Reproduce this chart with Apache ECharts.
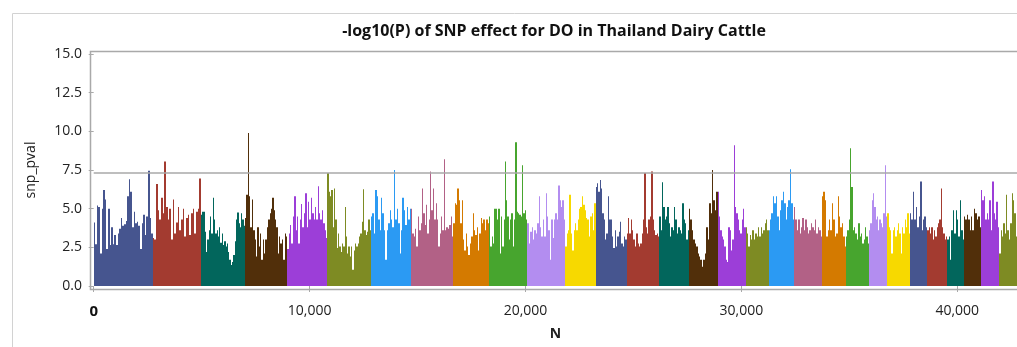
<!DOCTYPE html>
<html>
<head>
<meta charset="utf-8">
<script src="https://cdn.jsdelivr.net/npm/echarts@6/dist/echarts.min.js"></script>
<style>
    html, body { margin: 0; padding: 0; background: #fff; }
    #chart { width: 1017px; height: 347px; }
</style>
</head>
<body>
<div id="chart"></div>
<script>
// SNP count per chromosome (chromosome order along N)
const chrSnpCounts = [2733, 2237, 2038, 1960, 1852, 2025, 1852, 1960, 1653, 1774, 1760, 1409, 1435, 1511, 1375,
    1330, 1297, 1065, 1172, 1297, 1112, 1065, 848, 1051, 801, 927, 773, 788, 848, 820]

// peak -log10(P) read left to right in each chromosome
const chr1 = [4.1, 2.7, 5.2, 5.1, 2.1, 5.0, 6.2, 5.6, 2.4, 5.0, 2.65, 3.8, 2.7, 3.3, 2.65, 3.4, 3.7, 4.4, 3.9, 4.0, 4.2, 5.8, 6.9, 6.1, 3.8, 4.8, 4.05, 4.15, 3.9, 2.4, 4.05, 4.6, 3.3, 4.5, 7.45, 4.4, 3.4]
const chr2 = [3.1, 3.0, 6.6, 4.9, 4.3, 5.7, 4.7, 8.05, 5.1, 4.3, 5.0, 3.0, 5.6, 3.4, 4.1, 5.1, 3.6, 4.3, 5.0, 3.2, 4.4, 4.6, 3.3, 4.7, 5.0, 3.4, 4.8, 5.0, 6.95]
const chr3 = [4.6, 4.8, 4.8, 3.5, 2.2, 3.0, 3.6, 4.5, 3.4, 5.7, 4.3, 3.4, 3.6, 3.2, 3.8, 2.8, 3.4, 2.65, 2.9, 2.55, 2.75, 2.2, 1.7, 1.35, 1.55, 2.0, 2.9, 4.3, 4.75, 4.05, 3.8, 4.7, 4.3, 3.9]
const chr4 = [4.4, 5.9, 9.9, 5.8, 3.8, 5.6, 3.6, 3.0, 1.9, 3.8, 2.55, 3.4, 1.7, 3.0, 2.1, 3.0, 3.8, 4.3, 4.7, 5.0, 5.7, 4.9, 4.3, 3.8, 2.1, 3.2, 2.75, 3.0, 1.7, 3.4, 3.2]
const chr5 = [2.4, 3.4, 3.95, 2.75, 4.5, 5.8, 3.6, 4.5, 2.75, 4.3, 5.3, 3.8, 4.7, 6.0, 3.8, 5.45, 4.3, 5.7, 4.7, 4.3, 5.1, 4.3, 6.45, 4.7, 4.3, 4.9, 4.05, 3.6, 3.1]
const chr6 = [7.3, 6.1, 5.8, 6.2, 3.8, 6.3, 4.3, 2.45, 3.4, 2.55, 2.2, 2.75, 2.55, 5.1, 3.2, 2.1, 2.55, 1.9, 2.55, 1.05, 2.3, 2.75, 2.55, 2.75, 3.2, 3.4, 4.15, 6.25, 3.6, 3.3, 3.5, 4.3, 3.6]
const chr7 = [4.5, 4.7, 3.4, 6.2, 5.8, 4.3, 3.6, 5.7, 4.7, 3.6, 1.7, 3.6, 4.05, 4.9, 4.3, 3.8, 7.5, 4.3, 5.0, 4.05, 2.1, 3.6, 5.7, 4.9, 3.95, 5.1, 4.3, 5.0]
const chr8 = [5.0, 3.4, 3.2, 3.7, 2.55, 4.5, 3.6, 4.05, 6.3, 4.7, 3.95, 5.25, 3.4, 4.3, 7.4, 4.9, 6.3, 4.3, 5.35, 4.3, 2.55, 3.4, 4.5, 3.6, 8.2, 3.6, 3.8, 3.7, 3.95, 4.5, 3.2]
const chr9 = [4.05, 5.35, 5.25, 6.3, 5.55, 4.05, 5.55, 3.0, 2.3, 3.4, 2.55, 2.0, 2.75, 3.2, 4.7, 3.6, 3.3, 3.8, 2.3, 3.4, 4.4, 4.05, 4.3, 3.6, 4.3, 4.05]
const chr10 = [4.5, 2.55, 3.2, 2.75, 5.0, 5.0, 4.3, 5.0, 2.1, 4.5, 2.55, 4.3, 8.05, 5.55, 4.5, 3.0, 4.3, 4.7, 2.55, 4.3, 9.3, 4.8, 4.7, 4.6, 4.5, 7.8, 4.7, 4.9, 4.3]
const chr11 = [4.05, 2.75, 3.5, 3.8, 3.0, 3.6, 3.4, 4.05, 5.8, 3.8, 3.2, 4.3, 3.2, 6.0, 4.5, 3.6, 1.7, 4.3, 3.1, 4.3, 4.7, 4.3, 6.5, 5.55, 5.1, 5.55, 4.3]
const chr12 = [2.55, 3.4, 3.6, 5.9, 3.4, 2.3, 3.6, 4.05, 3.6, 4.3, 5.0, 5.1, 5.8, 5.25, 4.9, 4.4, 4.3, 3.2, 4.5, 4.7, 3.6, 5.35]
const chr13 = [6.4, 6.65, 6.1, 6.85, 6.3, 4.7, 4.3, 3.0, 3.4, 5.8, 4.3, 4.3, 3.2, 2.45, 3.6, 2.55, 3.2, 3.5, 4.15, 2.75, 2.55, 3.2, 3.0]
const chr14 = [3.4, 4.4, 3.4, 4.3, 3.6, 3.0, 2.55, 3.4, 2.75, 2.55, 2.75, 3.4, 4.3, 7.3, 3.8, 3.4, 4.3, 4.5, 7.4, 4.3, 3.6, 3.3, 3.4, 3.2]
const chr15 = [4.5, 3.6, 6.7, 5.1, 4.3, 4.5, 5.1, 4.05, 3.2, 3.8, 3.6, 5.1, 4.3, 3.4, 3.8, 3.6, 3.4, 5.35, 4.3, 4.05, 3.0, 3.6]
const chr16 = [5.0, 4.3, 3.6, 3.0, 2.75, 2.55, 2.1, 1.9, 1.7, 1.25, 1.7, 2.1, 3.8, 3.0, 5.35, 4.7, 7.5, 5.55, 4.9, 6.1]
const chr17 = [6.1, 4.5, 3.6, 3.2, 3.0, 2.55, 1.7, 1.55, 3.8, 3.6, 2.3, 3.0, 9.1, 5.1, 4.7, 4.3, 3.6, 3.4, 4.3, 5.0, 3.8]
const chr18 = [3.8, 3.4, 2.55, 3.3, 3.0, 3.6, 3.0, 3.4, 3.2, 3.8, 3.2, 3.8, 3.4, 3.6, 4.05, 4.3, 3.6]
const chr19 = [3.6, 4.3, 4.7, 5.8, 5.35, 5.8, 4.5, 3.6, 4.9, 5.55, 6.1, 5.35, 4.3, 5.1, 5.55, 7.55, 5.35, 4.3]
const chr20 = [5.1, 4.3, 3.6, 4.3, 3.4, 3.8, 4.4, 3.6, 4.3, 3.8, 3.4, 3.6, 4.05, 3.8, 3.6, 4.3, 3.4, 3.8, 3.6, 3.2]
const chr21 = [5.8, 6.1, 5.55, 3.2, 3.6, 4.3, 3.6, 5.35, 4.3, 3.2, 3.4, 5.8, 4.5, 3.8, 4.05, 3.2, 2.55]
const chr22 = [3.2, 3.6, 4.3, 8.9, 6.4, 3.6, 3.8, 3.4, 3.0, 4.05, 3.2, 3.4, 2.75, 3.0, 3.8, 3.2, 2.75]
const chr23 = [3.6, 4.05, 5.55, 6.0, 5.1, 4.3, 4.5, 3.6, 4.3, 4.05, 3.8, 4.7, 7.8, 4.5]
const chr24 = [4.7, 3.8, 3.6, 2.1, 3.6, 3.8, 3.2, 3.6, 4.05, 3.4, 2.1, 3.8, 3.4, 4.3, 3.8, 4.7, 3.4]
const chr25 = [4.7, 4.3, 6.1, 4.3, 5.1, 3.8, 4.5, 6.75, 3.6, 4.3, 4.5, 3.8]
const chr26 = [3.6, 3.8, 3.4, 3.8, 3.0, 3.6, 3.2, 3.8, 4.05, 4.3, 6.3, 3.8, 3.4, 3.0, 3.2]
const chr27 = [3.0, 3.2, 1.7, 3.6, 4.9, 3.4, 4.9, 4.3, 3.2, 5.55, 3.6, 3.0]
const chr28 = [4.5, 4.3, 4.6, 4.3, 3.6, 4.5, 3.6, 5.0, 4.7, 4.3, 4.5, 3.8]
const chr29 = [6.2, 5.55, 5.8, 4.3, 4.7, 4.3, 5.55, 3.6, 6.75, 4.7, 4.3, 5.45, 3.8]
const chr30 = [2.1, 3.6, 3.2, 4.05, 3.4, 5.9, 3.6, 3.0, 4.05, 6.0, 5.55, 4.7, 3.2]

const chrPeaks = [chr1, chr2, chr3, chr4, chr5, chr6, chr7, chr8, chr9, chr10, chr11, chr12, chr13, chr14, chr15,
    chr16, chr17, chr18, chr19, chr20, chr21, chr22, chr23, chr24, chr25, chr26, chr27, chr28, chr29, chr30]

const xTicks = [0, 10000, 20000, 30000, 40000]
const threshold = 7.3

const chrColors = ['#46558f', '#a33b30', '#02665c', '#512f0a', '#9c3ed8', '#7e8b23',
    '#2b9af3', '#b26186', '#d47a00', '#47a52e', '#b38df0', '#f7d900']

// one rect per bin: [startN, endN, value, chromosome index]
const bins = []
let chrStart = 0
chrPeaks.forEach((peaks, c) => {
    const step = chrSnpCounts[c] / peaks.length
    peaks.forEach((v, i) => {
        bins.push([chrStart + i * step, chrStart + (i + 1) * step, v, c])
    })
    chrStart += chrSnpCounts[c]
})

const frameColor = '#a9a9a9'
const font = 'Open Sans, Noto Sans, sans-serif'

const chart = echarts.init(document.getElementById('chart'), null, { renderer: 'canvas' })

chart.setOption({
    animation: false,
    grid: { left: 93.7, right: 0, top: 54, bottom: 61, containLabel: false },
    xAxis: {
        type: 'value',
        min: 0,
        max: 42768,
        offset: 4,
        name: 'N',
        nameLocation: 'middle',
        nameGap: 37,
        nameTextStyle: { fontFamily: font, fontSize: 14, fontWeight: 'bold', color: '#222' },
        axisLine: { show: false },
        axisTick: { show: true, length: 6, customValues: xTicks, lineStyle: { color: frameColor } },
        splitLine: { show: false },
        axisLabel: {
            customValues: xTicks,
            margin: 14,
            fontFamily: font,
            fontSize: 14,
            color: '#222',
            formatter: v => v === 0 ? '{zero|0}' : v.toLocaleString('en-US'),
            rich: { zero: { fontFamily: font, fontSize: 15, fontWeight: 'bold', color: '#111' } }
        }
    },
    yAxis: {
        type: 'value',
        min: 0,
        max: 15,
        interval: 2.5,
        offset: 3.7,
        name: 'snp_pval',
        nameLocation: 'middle',
        nameGap: 52,
        nameTextStyle: { fontFamily: font, fontSize: 14, color: '#222' },
        axisLine: { show: false },
        axisTick: { show: true, length: 5, lineStyle: { color: frameColor } },
        splitLine: { show: false },
        axisLabel: {
            margin: 8,
            fontFamily: font,
            fontSize: 14,
            color: '#222',
            formatter: v => v.toFixed(1)
        }
    },
    graphic: [
        {
            type: 'polyline',
            silent: true,
            shape: { points: [[12.5, 347], [12.5, 13.5], [1017, 13.5]] },
            style: { stroke: '#d2d2d2', lineWidth: 1, fill: null }
        },
        {
            type: 'polyline',
            silent: true,
            shape: { points: [[1017, 51.5], [90.5, 51.5], [90.5, 289.5], [1017, 289.5]] },
            style: { stroke: frameColor, lineWidth: 1.5, fill: null }
        },
        {
            type: 'text',
            silent: true,
            x: 554,
            y: 31,
            style: {
                text: '-log10(P) of SNP effect for DO in Thailand Dairy Cattle',
                fontFamily: font,
                fontSize: 16,
                fontWeight: 'bold',
                fill: '#111',
                textAlign: 'center',
                textVerticalAlign: 'middle'
            }
        }
    ],
    series: [{
        type: 'custom',
        data: bins,
        encode: { x: [0, 1], y: 2 },
        renderItem: (params, api) => {
            const base = api.coord([api.value(0), 0])
            const top = api.coord([api.value(1), api.value(2)])
            // snap bin edges to whole pixels so neighbours join without seams
            const x0 = Math.round(base[0])
            const x1 = Math.max(Math.round(top[0]), x0 + 1)
            return {
                type: 'rect',
                shape: { x: x0, y: top[1], width: x1 - x0, height: base[1] - top[1] },
                style: { fill: chrColors[api.value(3) % chrColors.length] }
            }
        },
        markLine: {
            silent: true,
            symbol: 'none',
            label: { show: false },
            lineStyle: { color: '#a8a8a8', width: 1.5, type: 'solid' },
            data: [{ yAxis: threshold }]
        }
    }]
})
</script>
</body>
</html>
